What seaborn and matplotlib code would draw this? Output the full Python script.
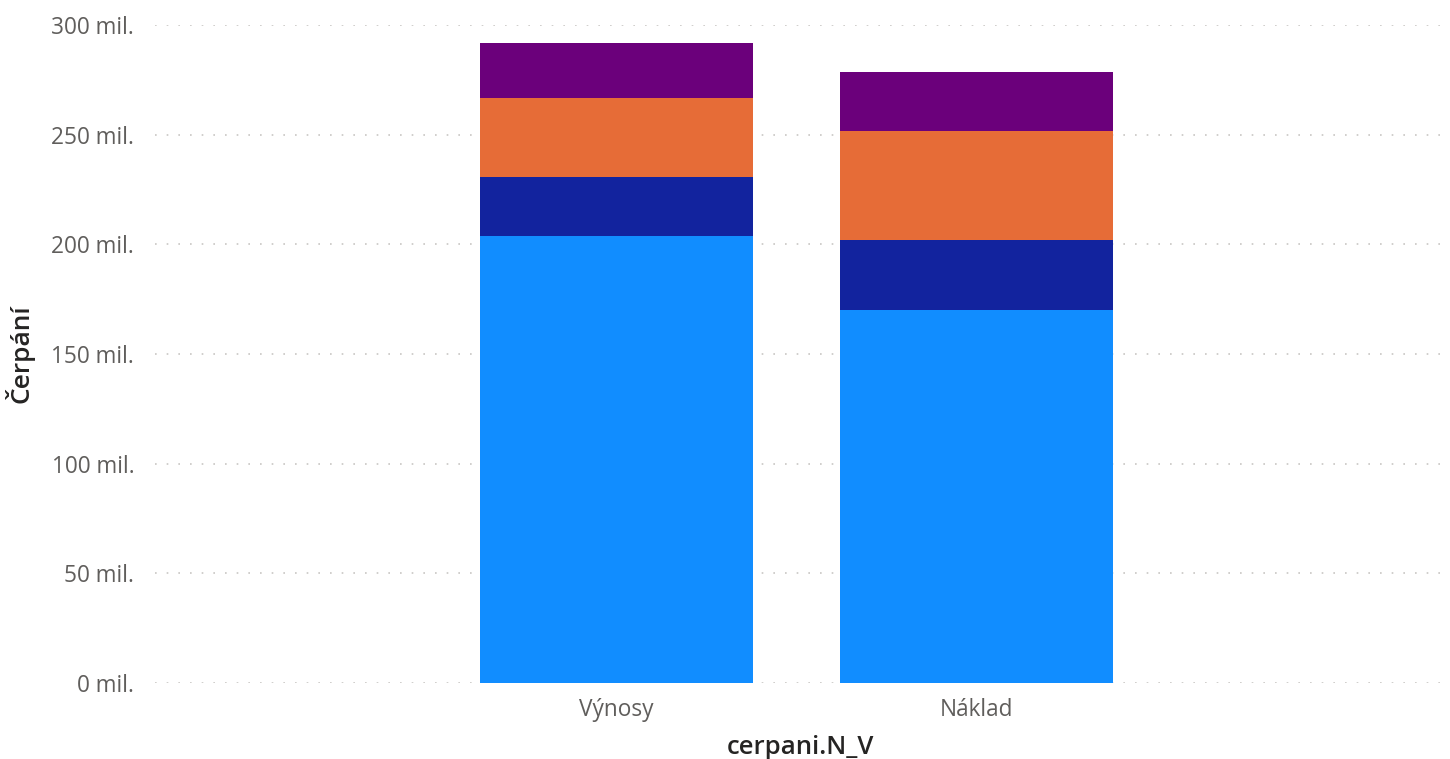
import numpy as np
import pandas as pd
import matplotlib.pyplot as plt
import seaborn as sns

categories = ["Výnosy", "Náklad"]
# segment values in millions, bottom to top
seg_light_blue = [203.8, 170.1]
seg_dark_blue = [26.9, 31.9]
seg_orange = [36.1, 49.7]
seg_purple = [25.0, 26.9]

colors = ["#118DFF", "#12239E", "#E66C37", "#6B007B"]
yticks = [0, 50, 100, 150, 200, 250, 300]

sns.set_style("white")
plt.rcParams["font.family"] = ["Open Sans", "DejaVu Sans"]

segments = [seg_light_blue, seg_dark_blue, seg_orange, seg_purple]
cum = np.cumsum(np.array(segments), axis=0)

fig = plt.figure(figsize=(14.5, 7.59), dpi=100)
ax = fig.add_axes([155 / 1450, 76 / 759, 1290 / 1450, 658 / 759])

# draw from tallest stack down so lower segments overlay
for i in range(len(segments) - 1, -1, -1):
    df = pd.DataFrame({"cat": categories, "val": cum[i]})
    sns.barplot(data=df, x="cat", y="val", color=colors[i], saturation=1,
                width=0.758, ax=ax, zorder=2, edgecolor="none")

ax.set_xlim(-1.28, 2.3)
ax.set_ylim(0, 300)
ax.set_yticks(yticks)
ax.set_yticklabels([f"{v} mil." for v in yticks])
ax.yaxis.grid(True, color="#C8C6C4", linestyle=(0, (1, 6)), linewidth=1.2, zorder=0)
ax.set_axisbelow(True)
for s in ax.spines.values():
    s.set_visible(False)
ax.tick_params(axis="both", length=0, labelsize=16.3, labelcolor="#605E5C")
ax.tick_params(axis="y", pad=15)
ax.tick_params(axis="x", pad=11)
ax.set_xlabel("cerpani.N_V", fontsize=18.5, color="#252423", fontweight="semibold", labelpad=9)
ax.set_ylabel("Čerpání", fontsize=19, color="#252423", fontweight="semibold", labelpad=12)

fig.savefig("out.png", dpi=100)
